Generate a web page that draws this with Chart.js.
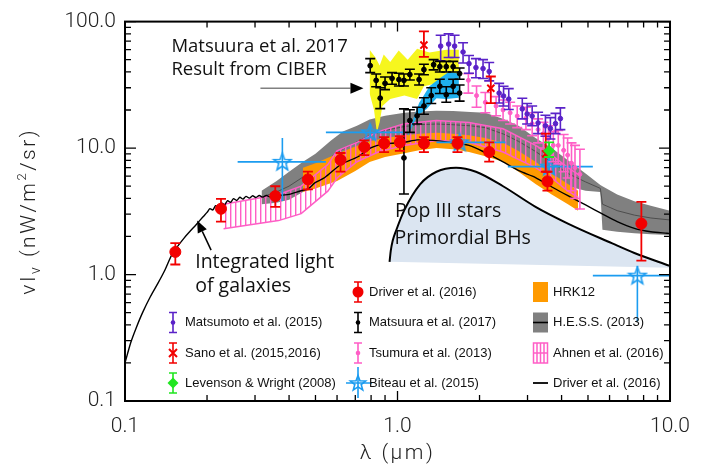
<!DOCTYPE html>
<html>
<head>
<meta charset="utf-8">
<script src="https://cdn.jsdelivr.net/npm/chart.js@4.4.1/dist/chart.umd.min.js"></script>
<style>
  html, body { margin: 0; padding: 0; background: #fff; }
  #wrap { width: 703px; height: 472px; }
</style>
</head>
<body>
<div id="wrap"><canvas id="c" width="703" height="472"></canvas></div>
<script>
// ---------------- axes ----------------
const xTickValues = [0.1, 1, 10];
const xTickLabels = ['0.1', '1.0', '10.0'];
const yTickValues = [0.1, 1, 10, 100];
const yTickLabels = ['0.1', '1.0', '10.0', '100.0'];

// ---------------- series names ----------------
const nameMatsumoto = 'Matsumoto et al. (2015)';
const nameSano = 'Sano et al. (2015,2016)';
const nameLevenson = 'Levenson & Wright (2008)';
const nameDriverPts = 'Driver et al. (2016)';
const nameMatsuura = 'Matsuura et al. (2017)';
const nameTsumura = 'Tsumura et al. (2013)';
const nameBiteau = 'Biteau et al. (2015)';
const nameHRK = 'HRK12';
const nameHESS = 'H.E.S.S. (2013)';
const nameAhnen = 'Ahnen et al. (2016)';
const nameDriverModel = 'Driver et al. (2016)';

// ---------------- Driver et al. (2016) integrated galaxy light ----------------
const driverModelX = [0.100, 0.105, 0.110, 0.116, 0.124, 0.132, 0.140, 0.149, 0.165, 0.183, 0.193, 0.200, 0.205, 0.210, 0.215,
  0.220, 0.226, 0.232, 0.238, 0.244, 0.250, 0.257, 0.264, 0.271, 0.278, 0.286, 0.294, 0.302, 0.311, 0.320,
  0.330, 0.340, 0.350, 0.362, 0.375, 0.400, 0.443, 0.470, 0.497, 0.541, 0.618, 0.713, 0.794, 0.900, 1.056,
  1.180, 1.350, 1.510, 1.830, 2.100, 2.440, 2.800, 3.210, 3.700, 4.220, 4.900, 5.620, 6.400, 7.400, 8.500,
  9.750, 10.0];
const driverModelY = [0.20, 0.29, 0.38, 0.50, 0.67, 0.85, 1.08, 1.45, 1.95, 2.50, 2.85, 3.10, 3.32, 3.24, 3.50, 3.40, 3.68,
  3.56, 3.84, 3.72, 3.98, 3.85, 4.08, 3.95, 4.15, 4.02, 4.20, 4.07, 4.22, 4.09, 4.22, 4.11, 4.20, 4.13, 4.24,
  4.30, 4.60, 4.75, 5.30, 5.85, 7.38, 8.50, 10.0, 10.8, 11.1, 11.6, 11.5, 11.2, 10.5, 9.2, 7.78, 6.6, 5.85,
  4.9, 4.2, 3.55, 3.03, 2.62, 2.32, 2.18, 2.12, 2.11];

// ---------------- Pop III stars / primordial black holes ----------------
const popX = [0.935, 0.945, 0.96, 0.99, 1.056, 1.21, 1.39, 1.64, 1.94, 2.44, 3.21, 4.22, 6.11, 7.40, 10.0];
const popY = [1.26, 1.55, 1.85, 2.25, 3.19, 5.17, 6.5, 7.0, 6.5, 4.99, 3.43, 2.53, 1.77, 1.48, 1.17];
const popBaseX = [0.935, 10.0];
const popBaseY = [1.26, 1.13];

// ---------------- H.E.S.S. (2013) band ----------------
const hessX = [0.317, 0.36, 0.40, 0.45, 0.50, 0.57, 0.63, 0.71, 0.79, 0.90, 1.06, 1.20, 1.39, 1.60, 1.85,
  2.10, 2.45, 2.78, 3.21, 3.68, 4.22, 4.90, 5.55, 5.65, 6.40, 7.40, 8.50, 10.0];
const hessHi = [4.6, 5.5, 6.5, 7.8, 9.0, 11.5, 13.5, 15.0, 16.8, 18.0, 19.0, 19.5, 19.7, 19.6, 19.3, 19.0,
  17.0, 15.0, 12.0, 10.0, 8.0, 6.3, 5.1, 5.0, 4.3, 3.8, 3.5, 3.2];
const hessLo = [3.6, 3.7, 3.9, 4.5, 5.3, 6.3, 7.0, 8.3, 9.5, 10.5, 11.5, 12.0, 12.2, 12.0, 11.6, 11.0, 9.8,
  8.6, 7.4, 6.0, 5.0, 4.6, 4.5, 2.26, 2.18, 2.12, 2.08, 2.05];
const hessMid = [4.1, 4.5, 5.0, 5.9, 6.9, 8.5, 9.8, 11.2, 12.6, 13.8, 14.8, 15.3, 15.5, 15.3, 15.0, 14.5,
  12.9, 11.3, 9.4, 7.7, 6.3, 5.4, 4.8, 3.6, 3.2, 2.95, 2.8, 2.7];

// ---------------- HRK12 band ----------------
const hrkX = [0.45, 0.50, 0.60, 0.70, 0.79, 0.90, 1.06, 1.20, 1.39, 1.60, 1.83, 2.10, 2.44, 2.78, 3.21, 3.68, 4.22, 4.60];
const hrkLo = [4.5, 4.8, 5.5, 6.6, 7.75, 8.5, 9.1, 9.6, 10.0, 9.8, 9.3, 8.6, 7.8, 6.5, 5.2, 4.3, 3.6, 3.2];
const hrkHi = [7.0, 7.6, 9.0, 10.3, 11.3, 12.0, 12.6, 13.0, 13.2, 13.0, 12.6, 12.0, 11.0, 9.5, 7.8, 6.3, 5.2, 4.6];

// ---------------- Ahnen et al. (2016) band ----------------
const ahnX = [0.23, 0.366, 0.443, 0.555, 0.60, 0.71, 0.85, 1.06, 1.39, 1.83, 2.44, 3.21, 3.68, 4.22, 4.60];
const ahnHi = [3.6, 4.3, 5.0, 7.4, 9.5, 11.1, 13.5, 15.6, 16.5, 15.9, 14.2, 10.5, 8.8, 7.0, 6.2];
const ahnLo = [2.3, 2.67, 3.03, 4.56, 5.8, 7.8, 9.3, 10.5, 11.5, 11.1, 9.3, 7.0, 5.8, 4.56, 4.1];

// ---------------- CIBER result (Matsuura et al. 2017) ----------------
const ciberTopX = [0.79, 0.83, 0.86, 0.89, 0.94, 1.01, 1.09, 1.18, 1.31, 1.51, 1.68];
const ciberTop = [60, 52, 45, 55, 48, 59, 50, 61, 57, 60, 60];
const ciberBotX = [0.79, 0.82, 0.84, 0.86, 0.88, 0.94, 1.06, 1.18, 1.25, 1.39, 1.55, 1.68];
const ciberBot = [27, 20, 13.3, 16, 21.5, 24.4, 26, 24.4, 30.8, 32.6, 35.6, 35];
const ciberLowTopX = [1.09, 1.11, 1.20, 1.31, 1.43, 1.55, 1.68];
const ciberLowTop = [12.5, 14.3, 22.7, 30.8, 35.6, 40.3, 38.7];
const ciberLowBotX = [1.09, 1.18, 1.28, 1.39, 1.51, 1.68];
const ciberLowBot = [12.3, 18, 20.4, 24.8, 24.4, 25];

// ---------------- measurements with error bars ----------------
const driverPtX = [0.153, 0.225, 0.356, 0.469, 0.618, 0.755, 0.893, 1.02, 1.25, 1.66, 2.17, 3.55, 7.85];
const driverPtY = [1.51, 3.31, 4.17, 5.65, 8.07, 10.2, 10.9, 11.1, 10.9, 10.9, 9.3, 5.45, 2.53];
const driverPtLo = [1.20, 2.62, 3.43, 4.72, 6.52, 8.8, 9.3, 9.5, 9.3, 9.3, 7.8, 4.6, 1.29];
const driverPtHi = [1.77, 3.96, 4.99, 6.52, 9.14, 11.5, 12.2, 12.4, 12.2, 12.2, 11.1, 6.5, 3.75];

const matsumotoX = [1.44, 1.54, 1.62, 1.74, 1.83, 1.94, 2.06, 2.17, 2.36, 2.45, 2.56, 2.87, 2.99, 3.12, 3.28, 3.49, 3.64, 3.80, 3.96];
const matsumotoY = [64, 66.4, 64, 57.5, 46.5, 43.3, 42.5, 40.3, 27.2, 25.8, 24.4, 20.4, 18.6, 17.9, 15.8, 15.0, 14.3, 15.6, 17.1];
const matsumotoLo = [49, 52, 52, 47, 39, 36, 35.5, 34, 22.7, 21.5, 20.2, 17.0, 15.5, 15.0, 13.0, 12.4, 11.8, 13.0, 14.0];
const matsumotoHi = [78, 80, 78, 68, 54, 51, 50, 47.5, 32.5, 30.8, 29.5, 24.8, 22.5, 21.5, 19.2, 18.2, 17.4, 18.8, 20.8];

const tsumuraX = [1.82, 1.95, 2.10, 2.30, 2.44, 2.59, 2.75, 2.96, 3.12, 3.28, 3.43, 3.58, 3.73, 3.89, 4.07, 4.21, 4.35, 4.48, 4.67];
const tsumuraY = [34.3, 26, 23, 21.5, 20.0, 19.0, 17.9, 17.2, 15.6, 14.0, 13.0, 11.9, 10.5, 10.5, 9.6, 8.8, 7.6, 7.0, 6.2];
const tsumuraLo = [27.2, 21, 19, 18, 16.5, 15.5, 14.5, 14, 12.5, 11, 10, 9, 7.8, 7.5, 6.5, 5.8, 4.6, 4.0, 3.3];
const tsumuraHi = [38.8, 31, 27.5, 25.5, 24, 23, 21.5, 21, 19, 17, 16, 15, 13.5, 13.8, 12.8, 12.0, 11.0, 10.5, 9.8];

const matsuuraUpX = [0.794, 0.835, 0.864, 0.900, 0.955, 1.012, 1.056, 1.11, 1.20, 1.25, 1.357, 1.43, 1.51, 1.60, 1.69];
const matsuuraUpY = [44.8, 34.3, 24.8, 32.5, 35.6, 34.8, 34.3, 38.1, 34.8, 41.7, 45.6, 44, 44, 44, 38.8];
const matsuuraUpLo = [39.5, 30.5, 20.5, 29, 32, 31, 31, 34.5, 31.5, 38, 41.5, 40, 40, 40, 35];
const matsuuraUpHi = [51, 38.5, 30, 36.5, 39.5, 39, 38.5, 42, 38.5, 46, 50, 48.5, 48.5, 48.5, 43];
const matsuuraLowX = [1.056, 1.11, 1.18, 1.25, 1.33, 1.43, 1.51, 1.60, 1.69];
const matsuuraLowY = [8.36, 16.5, 18.0, 21.5, 26, 30.8, 26.4, 30.8, 27.2];
const matsuuraLowLo = [4.33, 13.3, 15.5, 18.5, 22.5, 27, 23, 27, 23.5];
const matsuuraLowHi = [20.4, 20.1, 21, 25, 30, 35, 30.5, 35, 31.5];

const sanoX = [1.25, 2.20, 3.50];
const sanoY = [65.2, 29.7, 9.0];
const sanoLo = [52.6, 22.7, 6.5];
const sanoHi = [83.6, 36.8, 13.0];

const levensonX = [3.6];
const levensonY = [9.5];
const levensonLo = [8.5];
const levensonHi = [11.1];

const biteauX = [0.378, 0.794, 1.69, 3.6, 7.59];
const biteauY = [7.78, 13.3, 11.1, 7.13, 0.98];
const biteauXLo = [0.259, 0.546, 1.39, 2.54, 5.21];
const biteauXHi = [0.546, 1.05, 2.49, 5.21, 10.05];
const biteauYLo = [3.81, 12.0, 10.0, 6.5, 0.425];
const biteauYHi = [12.0, 14.8, 12.4, 8.4, 1.17];

// ---------------- colours ----------------
const RED = '#f20000', PURPLE = '#5a22c8', PINK = '#ff5ec6', GREEN = '#20e620', BLUE = '#1b9cf0';
const ORANGE = '#ff9a00', GREY = '#808080', YELLOW = '#f6f61e', CYAN = '#1fb0ee', POP = '#dbe5f1';

const AXIS_FONT = 'Roboto, "Liberation Sans", Arial, sans-serif';
const LEGEND_FONT = '"Liberation Sans", Arial, sans-serif';
const NOTE_FONT = '"Open Sans", "Noto Sans", sans-serif';

const xy = (xs, ys) => xs.map((v, i) => ({ x: v, y: ys[i] }));

const canvas = document.getElementById('c');
const ctx0 = canvas.getContext('2d');

function hatchTile(color) {
  const c = document.createElement('canvas');
  c.width = 5; c.height = 5;
  const g = c.getContext('2d');
  g.fillStyle = color;
  g.fillRect(0, 0, 1.4, 5);
  return c;
}
const hatchPattern = ctx0.createPattern(hatchTile(PINK), 'repeat');

function starPath(g, cx, cy, r) {
  g.beginPath();
  for (let i = 0; i < 10; i++) {
    const a = -Math.PI / 2 + i * Math.PI / 5;
    const rr = i % 2 ? r * 0.42 : r;
    g.lineTo(cx + rr * Math.cos(a), cy + rr * Math.sin(a));
  }
  g.closePath();
}
function starImage(color, r) {
  const c = document.createElement('canvas');
  const s = Math.ceil(2 * r + 4);
  c.width = c.height = s;
  const g = c.getContext('2d');
  g.strokeStyle = color; g.lineWidth = 1.6;
  starPath(g, s / 2, s / 2 + 0.5, r);
  g.stroke();
  return c;
}
const starIcon = starImage(BLUE, 9);

const lineDs = (label, xs, ys, extra) => Object.assign({
  label, data: xy(xs, ys), showLine: true, pointRadius: 0, borderWidth: 0,
  borderColor: 'rgba(0,0,0,0)', fill: false, tension: 0
}, extra);

const pointDs = (label, xs, ys, extra) => Object.assign({
  label, data: xy(xs, ys), showLine: false, pointHoverRadius: 0
}, extra);

const datasets = [
  // 0,1 H.E.S.S. band
  lineDs(nameHESS, hessX, hessHi, { fill: '+1', backgroundColor: GREY, order: 100 }),
  lineDs(nameHESS + ' low', hessX, hessLo, { order: 100 }),
  // 2 H.E.S.S. central curve
  lineDs(nameHESS + ' mid', hessX, hessMid, { borderColor: '#4d4d4d', borderWidth: 1, order: 99 }),
  // 3,4 HRK12
  lineDs(nameHRK, hrkX, hrkHi, { fill: '+1', backgroundColor: ORANGE, order: 98 }),
  lineDs(nameHRK + ' low', hrkX, hrkLo, { order: 98 }),
  // 5,6 Ahnen hatched band
  lineDs(nameAhnen, ahnX, ahnHi, { fill: '+1', backgroundColor: hatchPattern, borderColor: PINK, borderWidth: 1.5, order: 97 }),
  lineDs(nameAhnen + ' low', ahnX, ahnLo, { borderColor: PINK, borderWidth: 1.5, order: 97 }),
  // 7,8 Pop III / PBH region
  lineDs('Pop III', popX, popY, { fill: '+1', backgroundColor: POP, borderColor: '#000', borderWidth: 2, cubicInterpolationMode: 'monotone', order: 96 }),
  lineDs('Pop III base', popBaseX, popBaseY, { order: 96 }),
  // 9 Driver model
  lineDs(nameDriverModel, driverModelX, driverModelY, { borderColor: '#000', borderWidth: 1.4, tension: 0.25, order: 95 }),
  // 10,11 CIBER band
  lineDs('CIBER', ciberTopX, ciberTop, { fill: '+1', backgroundColor: YELLOW, order: 94 }),
  lineDs('CIBER low', ciberBotX, ciberBot, { order: 94 }),
  // 12,13 CIBER lower band
  lineDs('CIBER 2', ciberLowTopX, ciberLowTop, { fill: '+1', backgroundColor: CYAN, order: 93 }),
  lineDs('CIBER 2 low', ciberLowBotX, ciberLowBot, { order: 93 }),
  // measurements
  pointDs(nameBiteau, biteauX, biteauY, { pointStyle: starIcon, order: 10,
    err: { color: BLUE, width: 1.6, cap: 0, xLo: biteauXLo, xHi: biteauXHi, lo: biteauYLo, hi: biteauYHi } }),
  pointDs(nameTsumura, tsumuraX, tsumuraY, { pointStyle: 'circle', pointRadius: 2, backgroundColor: PINK, borderColor: PINK, order: 9,
    err: { color: PINK, width: 1.6, cap: 5, lo: tsumuraLo, hi: tsumuraHi } }),
  pointDs(nameMatsumoto, matsumotoX, matsumotoY, { pointStyle: 'circle', pointRadius: 2.3, backgroundColor: PURPLE, borderColor: PURPLE, order: 8,
    err: { color: PURPLE, width: 1.6, cap: 5, lo: matsumotoLo, hi: matsumotoHi } }),
  pointDs(nameMatsuura, matsuuraUpX, matsuuraUpY, { pointStyle: 'circle', pointRadius: 2.4, backgroundColor: '#000', borderColor: '#000', order: 7,
    err: { color: '#000', width: 1.6, cap: 5, lo: matsuuraUpLo, hi: matsuuraUpHi } }),
  pointDs(nameMatsuura + ' b', matsuuraLowX, matsuuraLowY, { pointStyle: 'circle', pointRadius: 2.4, backgroundColor: '#000', borderColor: '#000', order: 7,
    err: { color: '#000', width: 1.6, cap: 5, lo: matsuuraLowLo, hi: matsuuraLowHi } }),
  pointDs(nameSano, sanoX, sanoY, { pointStyle: 'crossRot', pointRadius: 5, borderColor: RED, borderWidth: 2, order: 6,
    err: { color: RED, width: 1.8, cap: 5, lo: sanoLo, hi: sanoHi } }),
  pointDs(nameLevenson, levensonX, levensonY, { pointStyle: 'rectRot', pointRadius: 5.5, backgroundColor: GREEN, borderColor: GREEN, order: 5,
    err: { color: GREEN, width: 1.8, cap: 5, lo: levensonLo, hi: levensonHi } }),
  pointDs(nameDriverPts, driverPtX, driverPtY, { pointStyle: 'circle', pointRadius: 5.5, backgroundColor: RED, borderColor: RED, order: 4,
    err: { color: RED, width: 1.8, cap: 5, lo: driverPtLo, hi: driverPtHi } })
];

// error bars are drawn just before their own markers
const errorBars = {
  id: 'errorBars',
  beforeDatasetDraw(chart, args) {
    const ds = chart.data.datasets[args.index];
    const e = ds.err;
    if (!e) return;
    const { ctx, chartArea: a, scales: { x, y } } = chart;
    ctx.save();
    ctx.beginPath();
    ctx.rect(a.left, a.top, a.right - a.left, a.bottom - a.top);
    ctx.clip();
    ctx.strokeStyle = e.color;
    ctx.lineWidth = e.width;
    ds.data.forEach((p, i) => {
      const px = x.getPixelForValue(p.x), py = y.getPixelForValue(p.y);
      ctx.beginPath();
      if (e.lo) {
        const y0 = y.getPixelForValue(e.lo[i]), y1 = y.getPixelForValue(e.hi[i]);
        ctx.moveTo(px, y0); ctx.lineTo(px, y1);
        if (e.cap) {
          ctx.moveTo(px - e.cap, y0); ctx.lineTo(px + e.cap, y0);
          ctx.moveTo(px - e.cap, y1); ctx.lineTo(px + e.cap, y1);
        }
      }
      if (e.xLo) {
        ctx.moveTo(x.getPixelForValue(e.xLo[i]), py);
        ctx.lineTo(x.getPixelForValue(e.xHi[i]), py);
      }
      ctx.stroke();
    });
    ctx.restore();
  }
};

function arrow(ctx, x0, y0, x1, y1, lineColor, headColor, headLen, headW) {
  const ang = Math.atan2(y1 - y0, x1 - x0);
  const bx = x1 - headLen * Math.cos(ang), by = y1 - headLen * Math.sin(ang);
  ctx.strokeStyle = lineColor; ctx.lineWidth = 1.5;
  ctx.beginPath(); ctx.moveTo(x0, y0); ctx.lineTo(bx, by); ctx.stroke();
  ctx.fillStyle = headColor;
  ctx.beginPath();
  ctx.moveTo(x1, y1);
  ctx.lineTo(bx + headW * Math.sin(ang), by - headW * Math.cos(ang));
  ctx.lineTo(bx - headW * Math.sin(ang), by + headW * Math.cos(ang));
  ctx.closePath(); ctx.fill();
}

function spacedText(ctx, pieces, cx, cy, spacing) {
  // pieces: [text, fontSize, baselineShift]
  let total = 0;
  pieces.forEach(p => { ctx.font = '300 ' + p[1] + 'px ' + AXIS_FONT; ctx.letterSpacing = spacing + 'px'; total += ctx.measureText(p[0]).width; });
  let xPos = cx - total / 2;
  pieces.forEach(p => {
    ctx.font = '300 ' + p[1] + 'px ' + AXIS_FONT; ctx.letterSpacing = spacing + 'px';
    ctx.fillText(p[0], xPos, cy + p[2]);
    xPos += ctx.measureText(p[0]).width;
  });
  ctx.letterSpacing = '0px';
}

// frame, inward ticks, axis titles, notes and legend
const decorations = {
  id: 'decorations',
  afterDatasetsDraw(chart) {
    const { ctx, chartArea: a, scales: { x, y } } = chart;
    ctx.save();
    ctx.strokeStyle = '#000';
    ctx.lineWidth = 1.3;
    const xMinor = [], yMinor = [];
    [0.1, 1].forEach(d => { for (let k = 2; k <= 9; k++) xMinor.push(k * d); });
    [0.1, 1, 10].forEach(d => { for (let k = 2; k <= 9; k++) yMinor.push(k * d); });
    ctx.beginPath();
    xMinor.forEach(v => { const p = x.getPixelForValue(v); ctx.moveTo(p, a.bottom); ctx.lineTo(p, a.bottom - 6); ctx.moveTo(p, a.top); ctx.lineTo(p, a.top + 6); });
    xTickValues.forEach(v => { const p = x.getPixelForValue(v); ctx.moveTo(p, a.bottom); ctx.lineTo(p, a.bottom - 10); ctx.moveTo(p, a.top); ctx.lineTo(p, a.top + 10); });
    yMinor.forEach(v => { const p = y.getPixelForValue(v); ctx.moveTo(a.left, p); ctx.lineTo(a.left + 6, p); ctx.moveTo(a.right, p); ctx.lineTo(a.right - 6, p); });
    yTickValues.forEach(v => { const p = y.getPixelForValue(v); ctx.moveTo(a.left, p); ctx.lineTo(a.left + 11, p); ctx.moveTo(a.right, p); ctx.lineTo(a.right - 11, p); });
    ctx.stroke();
    ctx.lineWidth = 2;
    ctx.strokeRect(a.left, a.top, a.right - a.left, a.bottom - a.top);

    // axis titles
    ctx.fillStyle = '#222';
    ctx.textBaseline = 'alphabetic';
    ctx.textAlign = 'left';
    spacedText(ctx, [['λ (', 21, 0], ['μ', 21, 0], ['m)', 21, 0]], (a.left + a.right) / 2, 459, 2.5);
    ctx.save();
    ctx.translate(35, (a.top + a.bottom) / 2);
    ctx.rotate(-Math.PI / 2);
    spacedText(ctx, [['νI', 21, 0], ['ν', 14, 5], [' (nW/m', 21, 0], ['2', 13, -9], ['/sr)', 21, 0]], 0, 0, 2.5);
    ctx.restore();

    // notes
    ctx.fillStyle = '#111';
    ctx.font = '18.5px ' + NOTE_FONT;
    ctx.textAlign = 'left';
    ctx.textBaseline = 'alphabetic';
    const X = v => x.getPixelForValue(v), Y = v => y.getPixelForValue(v);
    ctx.fillText('Matsuura et al. 2017', X(0.148), Y(57.5));
    ctx.fillText('Result from CIBER', X(0.148), Y(37.5));
    arrow(ctx, X(0.314), Y(29.7), X(0.75), Y(29.7), '#808080', '#000', 13, 5.5);
    ctx.fillStyle = '#111';
    ctx.font = '19.5px ' + NOTE_FONT;
    ctx.fillText('Pop III stars', X(0.98), Y(2.86));
    ctx.fillText('Primordial BHs', X(0.975), Y(1.74));
    ctx.fillText('Integrated light', X(0.181), Y(1.13));
    ctx.fillText('of galaxies', X(0.181), Y(0.724));
    arrow(ctx, X(0.207), Y(1.56), X(0.184), Y(2.67), '#000', '#000', 12, 5);

    // legend
    ctx.font = '13px ' + LEGEND_FONT;
    ctx.textBaseline = 'middle';
    const rows = [292, 322.5, 353, 383];
    const errIcon = (cx, cy, color, marker) => {
      ctx.strokeStyle = color; ctx.lineWidth = 1.6;
      ctx.beginPath();
      ctx.moveTo(cx, cy - 10); ctx.lineTo(cx, cy + 10);
      ctx.moveTo(cx - 4, cy - 10); ctx.lineTo(cx + 4, cy - 10);
      ctx.moveTo(cx - 4, cy + 10); ctx.lineTo(cx + 4, cy + 10);
      ctx.stroke();
      ctx.fillStyle = color;
      if (marker === 'dot') { ctx.beginPath(); ctx.arc(cx, cy, 2.3, 0, 2 * Math.PI); ctx.fill(); }
      if (marker === 'circle') { ctx.beginPath(); ctx.arc(cx, cy, 5.5, 0, 2 * Math.PI); ctx.fill(); }
      if (marker === 'cross') { ctx.lineWidth = 2; ctx.beginPath(); ctx.moveTo(cx - 4, cy - 4); ctx.lineTo(cx + 4, cy + 4); ctx.moveTo(cx + 4, cy - 4); ctx.lineTo(cx - 4, cy + 4); ctx.stroke(); }
      if (marker === 'diamond') { ctx.beginPath(); ctx.moveTo(cx, cy - 5.5); ctx.lineTo(cx + 5.5, cy); ctx.lineTo(cx, cy + 5.5); ctx.lineTo(cx - 5.5, cy); ctx.closePath(); ctx.fill(); }
    };
    const label = (t, tx, ty) => { ctx.fillStyle = '#111'; ctx.fillText(t, tx, ty); };

    errIcon(173, rows[1], PURPLE, 'dot'); label(nameMatsumoto, 185, rows[1]);
    errIcon(173, rows[2], RED, 'cross'); label(nameSano, 185, rows[2]);
    errIcon(173, rows[3], GREEN, 'diamond'); label(nameLevenson, 185, rows[3]);

    errIcon(358, rows[0], RED, 'circle'); label(nameDriverPts, 369, rows[0]);
    errIcon(358, rows[1], '#000', 'dot'); label(nameMatsuura, 369, rows[1]);
    errIcon(358, rows[2], PINK, 'dot'); label(nameTsumura, 369, rows[2]);
    ctx.strokeStyle = BLUE; ctx.lineWidth = 1.6;
    ctx.beginPath(); ctx.moveTo(346, rows[3]); ctx.lineTo(372, rows[3]); ctx.moveTo(358, rows[3] - 16); ctx.lineTo(358, rows[3] + 15); ctx.stroke();
    starPath(ctx, 358, rows[3] + 0.5, 8); ctx.stroke();
    label(nameBiteau, 369, rows[3]);

    ctx.fillStyle = ORANGE; ctx.fillRect(533, rows[0] - 10, 15, 20); label(nameHRK, 553, rows[0]);
    ctx.fillStyle = GREY; ctx.fillRect(533, rows[1] - 10, 15, 20);
    ctx.strokeStyle = '#000'; ctx.lineWidth = 1.6;
    ctx.beginPath(); ctx.moveTo(533, rows[1]); ctx.lineTo(548, rows[1]); ctx.stroke();
    label(nameHESS, 553, rows[1]);
    ctx.strokeStyle = PINK; ctx.lineWidth = 1.5;
    ctx.strokeRect(533.5, rows[2] - 10, 14, 20);
    ctx.beginPath();
    [537, 540.5, 544].forEach(v => { ctx.moveTo(v, rows[2] - 10); ctx.lineTo(v, rows[2] + 10); });
    ctx.moveTo(533.5, rows[2]); ctx.lineTo(547.5, rows[2]);
    ctx.stroke();
    label(nameAhnen, 553, rows[2]);
    ctx.strokeStyle = '#000'; ctx.lineWidth = 1.8;
    ctx.beginPath(); ctx.moveTo(533, rows[3]); ctx.lineTo(548, rows[3]); ctx.stroke();
    label(nameDriverModel, 553, rows[3]);
    ctx.restore();
  }
};

new Chart(canvas, {
  type: 'line',
  data: { datasets },
  options: {
    responsive: false,
    animation: false,
    devicePixelRatio: 1,
    events: [],
    layout: { padding: { left: 0, right: 27, top: 14, bottom: 0 } },
    plugins: { legend: { display: false }, tooltip: { enabled: false }, filler: { propagate: false } },
    scales: {
      x: {
        type: 'logarithmic', min: 0.1, max: 10,
        afterBuildTicks: s => { s.ticks = xTickValues.map(v => ({ value: v })); },
        afterFit: s => { s.height = 71; },
        ticks: { autoSkip: false, maxRotation: 0, padding: 13, color: '#222',
          font: { family: AXIS_FONT, size: 21, weight: '300' },
          callback: (v, i) => xTickLabels[i] },
        grid: { display: false, drawTicks: false },
        border: { display: false }
      },
      y: {
        type: 'logarithmic', min: 0.1, max: 100,
        afterBuildTicks: s => { s.ticks = yTickValues.map(v => ({ value: v })); },
        afterFit: s => { s.width = 125; },
        ticks: { autoSkip: false, padding: 9, color: '#222',
          font: { family: AXIS_FONT, size: 21, weight: '300' },
          callback: (v, i) => yTickLabels[i] },
        grid: { display: false, drawTicks: false },
        border: { display: false }
      }
    }
  },
  plugins: [errorBars, decorations]
});
</script>
</body>
</html>
